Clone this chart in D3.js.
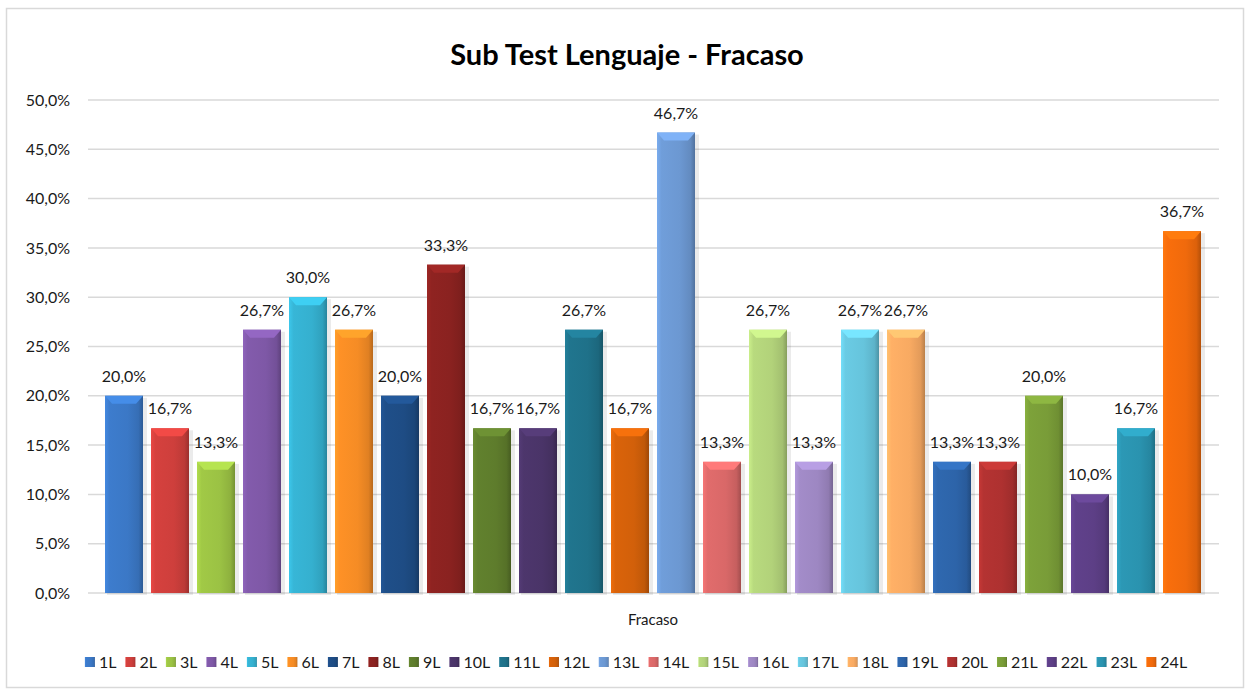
<!DOCTYPE html>
<html>
<head>
<meta charset="utf-8">
<script src="https://cdn.jsdelivr.net/npm/d3@7"></script>
<style>
  body { margin: 0; background: #fff; }
  text { font-family: Lato, "Open Sans", sans-serif; fill: #1a1a1a; }
</style>
</head>
<body>
<svg width="1248" height="692"></svg>
<script>
var series = ["1L","2L","3L","4L","5L","6L","7L","8L","9L","10L","11L","12L",
              "13L","14L","15L","16L","17L","18L","19L","20L","21L","22L","23L","24L"];
var values = [20.0,16.7,13.3,26.7,30.0,26.7,20.0,33.3,16.7,16.7,26.7,16.7,
              46.7,13.3,26.7,13.3,26.7,26.7,13.3,13.3,20.0,10.0,16.7,36.7];
var category = "Fracaso";
var yTicks = [0,5,10,15,20,25,30,35,40,45,50];
var colors = ["#3B78C6","#CE3F3C","#9BC244","#7E58A6","#35B0CF","#F58C25",
              "#1E4C84","#8A2220","#5E7C2C","#4A3468","#1F7189","#D2600A",
              "#6C98D2","#D96868","#B2D27A","#9D87C2","#66C4DC","#F8AA62",
              "#2D64A9","#AE3130","#799C38","#5D3F86","#2A93AF","#F06A0C"];

var svg = d3.select("svg"),
    fmt = function(v) { return d3.format(".1f")(v).replace(".", ",") + "%"; };

// outer frame
svg.append("rect")
    .attr("x", 6.5).attr("y", 8.5).attr("width", 1237).attr("height", 679)
    .attr("fill", "#fff").attr("stroke", "#d9d9d9").attr("stroke-width", 1.5);

svg.append("text")
    .attr("x", 627).attr("y", 65)
    .attr("text-anchor", "middle")
    .style("font-size", "29px").style("font-weight", "bold")
    .style("fill", "#000")
    .text("Sub Test Lenguaje - Fracaso");

var x = d3.scaleBand().domain(series).range([105, 1201]).paddingInner(8 / 46).paddingOuter(0),
    y = d3.scaleLinear().domain([0, 50]).range([593, 100]);

// gridlines
svg.append("g").selectAll("line")
    .data(yTicks)
    .enter().append("line")
    .attr("x1", 88).attr("x2", 1219)
    .attr("y1", function(d) { return y(d); })
    .attr("y2", function(d) { return y(d); })
    .attr("stroke", "#d9d9d9").attr("stroke-width", 1.5);

// y axis labels
var yAxis = d3.axisLeft(y).tickValues(yTicks).tickSize(0).tickPadding(0)
    .tickFormat(function(d) { return fmt(d); });
var ya = svg.append("g").attr("transform", "translate(70,0)").call(yAxis);
ya.select(".domain").remove();
ya.selectAll("text").style("font-size", "16px").style("font-family", "Lato").attr("fill", "#1a1a1a");

// gradients
var defs = svg.append("defs");
colors.forEach(function(c, i) {
    var g = defs.append("linearGradient").attr("id", "g" + i)
        .attr("x1", "0").attr("x2", "1").attr("y1", "0").attr("y2", "0");
    var base = d3.color(c);
    g.append("stop").attr("offset", "0").attr("stop-color", base.brighter(0.35));
    g.append("stop").attr("offset", "0.12").attr("stop-color", base.brighter(0.1));
    g.append("stop").attr("offset", "0.6").attr("stop-color", base);
    g.append("stop").attr("offset", "0.88").attr("stop-color", base.darker(0.25));
    g.append("stop").attr("offset", "1").attr("stop-color", base.darker(0.8));
});

var bars = svg.append("g").selectAll("g")
    .data(values)
    .enter().append("g");

// soft shadow
bars.append("rect")
    .attr("x", function(d, i) { return x(series[i]) + 2; })
    .attr("y", function(d) { return y(d) + 2; })
    .attr("width", x.bandwidth() + 2)
    .attr("height", function(d) { return y(0) - y(d); })
    .attr("fill", "#000").attr("opacity", 0.08);

bars.append("rect")
    .attr("x", function(d, i) { return x(series[i]); })
    .attr("y", function(d) { return y(d); })
    .attr("width", x.bandwidth())
    .attr("height", function(d) { return y(0) - y(d); })
    .attr("fill", function(d, i) { return "url(#g" + i + ")"; });

// top bevel
bars.append("path")
    .attr("d", function(d, i) {
        var x0 = x(series[i]), w = x.bandwidth(), t = y(d);
        return "M" + x0 + "," + t + "L" + (x0 + w) + "," + t +
               "L" + (x0 + w - 7) + "," + (t + 8) + "L" + (x0 + 7) + "," + (t + 8) + "Z";
    })
    .attr("fill", function(d, i) { return d3.color(colors[i]).brighter(0.45); });

// data labels
bars.append("text")
    .attr("x", function(d, i) { return x(series[i]) + x.bandwidth() / 2; })
    .attr("y", function(d) { return y(d) - 14; })
    .attr("text-anchor", "middle")
    .style("font-size", "16px")
    .text(function(d) { return fmt(d); });

svg.append("text")
    .attr("x", 653).attr("y", 625)
    .attr("text-anchor", "middle")
    .style("font-size", "15px")
    .text(category);

// legend
var legend = svg.append("g");
var items = legend.selectAll("g").data(series).enter().append("g");
items.append("rect")
    .attr("width", 10).attr("height", 10).attr("y", -11)
    .attr("fill", function(d, i) { return "url(#g" + i + ")"; });
items.append("text")
    .attr("x", 14).attr("y", 0)
    .style("font-size", "16px")
    .text(function(d) { return d; });
var pos = 0, gap = 9;
items.each(function() {
    d3.select(this).attr("data-x", pos);
    pos += 14 + this.querySelector("text").getComputedTextLength() + gap;
});
var total = pos - gap, start = 636 - total / 2;
items.attr("transform", function() { return "translate(" + (start + +this.getAttribute("data-x")) + ",668)"; });
</script>
</body>
</html>
